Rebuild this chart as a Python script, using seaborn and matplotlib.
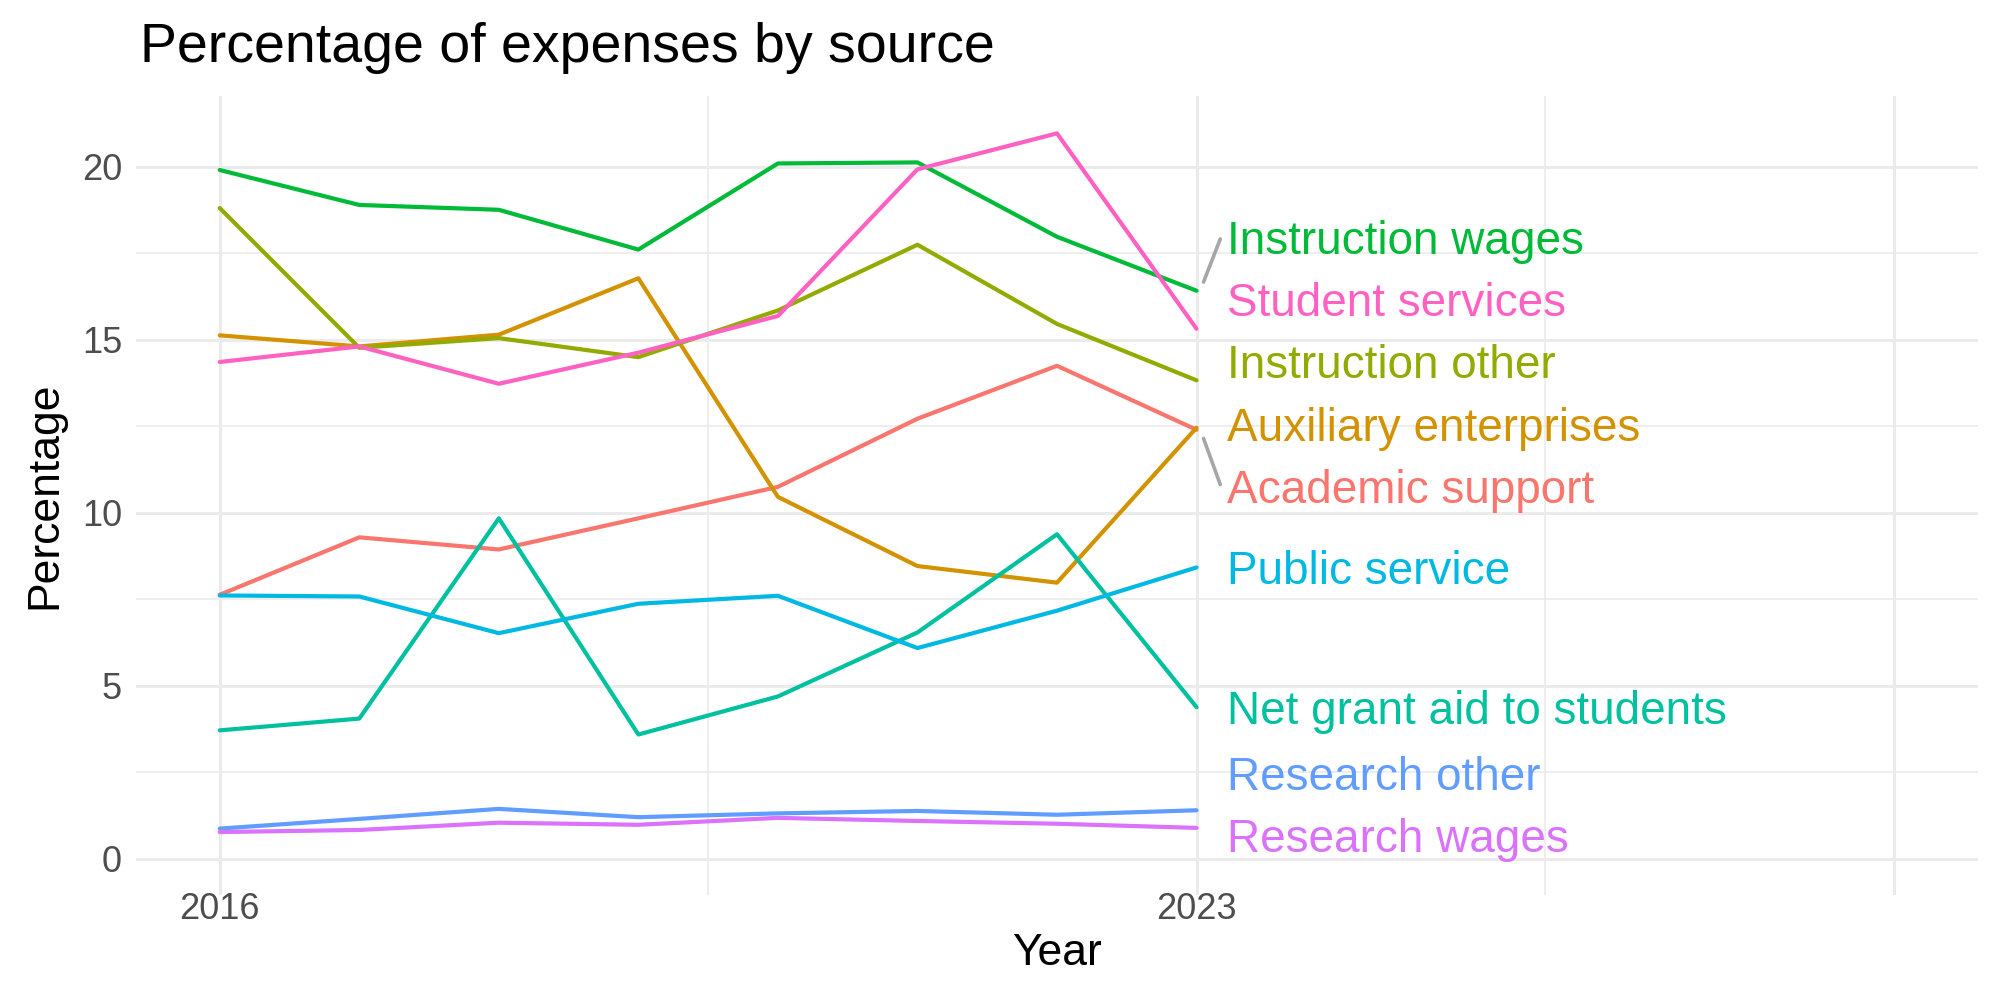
import numpy as np
import pandas as pd
import matplotlib
matplotlib.use("Agg")
import matplotlib.pyplot as plt
import seaborn as sns

# --- data ---
years = [2016, 2017, 2018, 2019, 2020, 2021, 2022, 2023]

academic_support      = [7.63, 9.29, 8.94, 9.84, 10.75, 12.72, 14.25, 12.40]
auxiliary_enterprises = [15.13, 14.81, 15.15, 16.78, 10.46, 8.46, 7.98, 12.46]
instruction_other     = [18.81, 14.77, 15.05, 14.50, 15.85, 17.75, 15.46, 13.83]
instruction_wages     = [19.91, 18.90, 18.76, 17.61, 20.10, 20.13, 17.98, 16.42]
net_grant_aid         = [3.71, 4.05, 9.84, 3.59, 4.69, 6.54, 9.38, 4.38]
public_service        = [7.61, 7.58, 6.52, 7.37, 7.60, 6.09, 7.17, 8.42]
research_other        = [0.87, 1.15, 1.44, 1.20, 1.31, 1.38, 1.27, 1.40]
research_wages        = [0.77, 0.83, 1.04, 0.98, 1.18, 1.09, 1.01, 0.89]
student_services      = [14.36, 14.81, 13.73, 14.63, 15.69, 19.93, 20.97, 15.32]

sources = ["Academic support", "Auxiliary enterprises", "Instruction other",
           "Instruction wages", "Net grant aid to students", "Public service",
           "Research other", "Research wages", "Student services"]
series = [academic_support, auxiliary_enterprises, instruction_other,
          instruction_wages, net_grant_aid, public_service,
          research_other, research_wages, student_services]

# ggplot default hue palette
colors = ["#F8766D", "#D39200", "#93AA00", "#00BA38", "#00C19F",
          "#00B9E3", "#619CFF", "#DB72FB", "#FF61C3"]
palette = dict(zip(sources, colors))

df = pd.DataFrame({
    "Year": np.tile(years, len(sources)),
    "Percentage": np.concatenate(series),
    "source": np.repeat(sources, len(years)),
})

sns.set_theme(style="white")
plt.rcParams['font.family'] = ['Liberation Sans', 'DejaVu Sans']

fig = plt.figure(figsize=(10, 5), dpi=200)
ax = fig.add_axes([0.068, 0.105, 0.921, 0.799])

# grid first (theme_minimal look)
for x in [2016, 2023, 2028]:
    ax.axvline(x, color="#EBEBEB", lw=1.1, zorder=0)
for x in [2019.5, 2025.5]:
    ax.axvline(x, color="#EBEBEB", lw=0.6, zorder=0)
for y in [0, 5, 10, 15, 20]:
    ax.axhline(y, color="#EBEBEB", lw=1.1, zorder=0)
for y in [2.5, 7.5, 12.5, 17.5]:
    ax.axhline(y, color="#EBEBEB", lw=0.6, zorder=0)

sns.lineplot(data=df, x="Year", y="Percentage", hue="source", palette=palette,
             lw=1.5, ax=ax, legend=False, zorder=3)

# simple symmetric label repel on the last values
last = df[df["Year"] == years[-1]].set_index("source")["Percentage"]
order = last.sort_values(ascending=False).index.tolist()
pos = np.array([last[s] for s in order], dtype=float)
gap, floor = 1.8, 0.66
for _ in range(3000):
    for i in range(len(pos) - 1):
        d = pos[i] - pos[i + 1]
        if d < gap:
            shift = (gap - d) / 2
            pos[i] += shift
            pos[i + 1] -= shift
    pos = np.maximum(pos, floor)

# labels pushed apart (but not held at the floor) sit a little higher
crowded = np.zeros(len(pos), dtype=bool)
for i in range(len(pos) - 1):
    if pos[i] - pos[i + 1] < gap + 0.01:
        crowded[i] = crowded[i + 1] = True
at_floor = np.zeros(len(pos), dtype=bool)
i = len(pos) - 1
if pos[i] <= floor + 1e-6:
    at_floor[i] = True
    while i > 0 and pos[i - 1] - pos[i] < gap + 0.01:
        i -= 1
        at_floor[i] = True
pos = pos + np.where(crowded & ~at_floor, 0.28, 0.0)

x_end = years[-1]
for s, ly in zip(order, pos):
    ax.text(x_end + 0.22, ly - 0.13, s, color=palette[s], fontsize=16.5,
            va="center", ha="left", zorder=4)
    diff = ly - last[s]
    if abs(diff) > 1.3:
        sgn = np.sign(diff)
        ax.plot([x_end + 0.05, x_end + 0.17],
                [last[s] + sgn * 0.25, ly - sgn * 0.05],
                color="#A6A6A6", lw=1.3, zorder=2)

ax.set_xlim(2015.4, 2028.6)
ax.set_ylim(-1.05, 22.05)
ax.set_xticks([2016, 2023, 2028])
ax.set_xticklabels(["2016", "2023", ""])
ax.set_yticks([0, 5, 10, 15, 20])
ax.tick_params(axis="x", labelsize=13, colors="#4D4D4D", length=0, pad=-1)
ax.tick_params(axis="y", labelsize=13, colors="#4D4D4D", length=0, pad=5)
ax.set_xlabel("Year", fontsize=16, color="black", labelpad=2)
ax.set_ylabel("Percentage", fontsize=16, color="black", labelpad=6)
for sp in ax.spines.values():
    sp.set_visible(False)
ax.grid(False)

fig.text(0.07, 0.952, "Percentage of expenses by source", fontsize=20,
         color="black", ha="left", va="center")

fig.savefig("out.png", dpi=200)
